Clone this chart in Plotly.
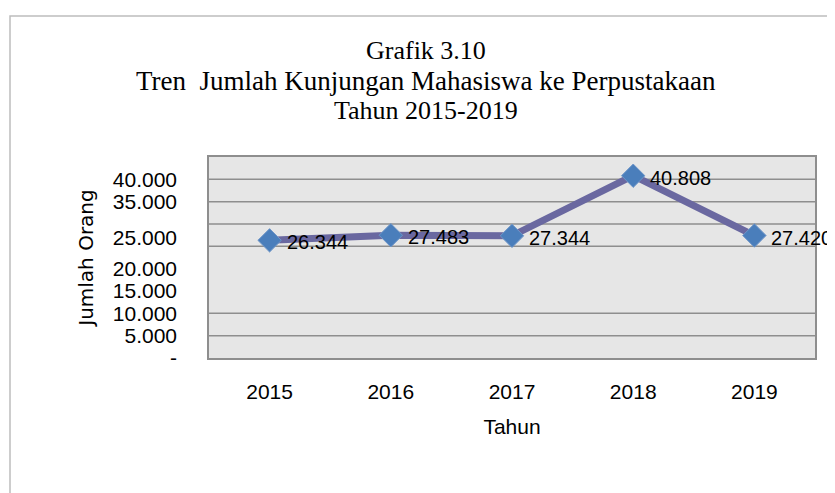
import plotly.graph_objects as go

YEARS = ["2015", "2016", "2017", "2018", "2019"]
VISITS = [26344, 27483, 27344, 40808, 27420]
VISIT_LABELS = ["26.344", "27.483", "27.344", "40.808", "27.420"]

# y-axis tick labels as they appear on the scanned chart
Y_TICK_VALS = [0, 5000, 10000, 15000, 20000, 27000, 35000, 40000]
Y_TICK_TEXT = ["-", "5.000", "10.000", "15.000", "20.000", "25.000", "35.000", "40.000"]
# gridlines that are visible in the picture
GRID_VALS = [5000, 10000, 25000, 30000, 35000, 40000]
Y_MAX = 45000

TITLE_LINES = ["Grafik 3.10", "Tren  Jumlah Kunjungan Mahasiswa ke Perpustakaan", "Tahun 2015-2019"]
TITLE_SIZES = [26, 27, 26]

# the page body adds an 8px margin, so the figure is made smaller and shifted
OFF = 8
W, H = 835 - OFF, 493 - OFF
L, R, T, B = 209 - OFF, 28 - OFF, 157 - OFF, 135
PW = W - L - R
PH = H - T - B

SANS = "Liberation Sans, Arial, sans-serif"
SERIF = "Liberation Serif, Times New Roman, serif"


def px_y(y):
    """page pixel row -> paper y"""
    return (H - B - (y - OFF)) / PH


def px_x(x):
    return (x - OFF - L) / PW


fig = go.Figure()

fig.add_trace(
    go.Scatter(
        x=list(range(len(YEARS))),
        y=VISITS,
        mode="lines+markers",
        line=dict(color="#6A68A0", width=7),
        marker=dict(
            symbol="diamond",
            size=18,
            color="#4A7EBB",
            line=dict(color="#6F96C8", width=1),
        ),
        hoverinfo="skip",
        showlegend=False,
    )
)

# data labels to the right of each point
for i, (y, t) in enumerate(zip(VISITS, VISIT_LABELS)):
    fig.add_annotation(
        x=i,
        y=y,
        text=t,
        showarrow=False,
        xanchor="left",
        yanchor="middle",
        xshift=15,
        yshift=-2,
        font=dict(family=SANS, size=20, color="#000000"),
    )

# horizontal gridlines
for g in GRID_VALS:
    fig.add_shape(
        type="line",
        xref="paper",
        yref="y",
        x0=0,
        x1=1,
        y0=g,
        y1=g,
        line=dict(color="#8E8E8E", width=1.5),
        layer="below",
    )

# outer chart frame (partly cropped in the scan)
fig.add_shape(
    type="rect",
    xref="paper",
    yref="paper",
    x0=px_x(10),
    x1=1.3,
    y0=-1.0,
    y1=px_y(16),
    line=dict(color="#BDBDBD", width=1.5),
    fillcolor="rgba(0,0,0,0)",
)

# three-line title
for txt, yy, sz in zip(TITLE_LINES, [51, 81, 111], TITLE_SIZES):
    fig.add_annotation(
        xref="paper",
        yref="paper",
        x=px_x(426),
        y=px_y(yy),
        text=txt,
        showarrow=False,
        xanchor="center",
        yanchor="middle",
        borderpad=0,
        font=dict(family=SERIF, size=sz, color="#000000"),
    )

fig.update_layout(
    width=W,
    height=H,
    paper_bgcolor="white",
    plot_bgcolor="#E6E6E6",
    margin=dict(l=L, r=R, t=T, b=B),
)

fig.update_xaxes(
    tickmode="array",
    tickvals=list(range(len(YEARS))),
    ticktext=YEARS,
    range=[-0.5, 4.5],
    showgrid=False,
    zeroline=False,
    showline=True,
    linecolor="#8E8E8E",
    linewidth=1.5,
    mirror=True,
    ticks="",
    ticklabelstandoff=14,
    tickfont=dict(family=SANS, size=21, color="#000000"),
    title=dict(text="Tahun", standoff=17, font=dict(family=SANS, size=21, color="#000000")),
)

fig.update_yaxes(
    range=[0, Y_MAX],
    tickmode="array",
    tickvals=Y_TICK_VALS,
    ticktext=Y_TICK_TEXT,
    showgrid=False,
    zeroline=False,
    showline=True,
    linecolor="#8E8E8E",
    linewidth=1.5,
    mirror=True,
    ticks="",
    ticklabelstandoff=26,
    tickfont=dict(family=SANS, size=21, color="#000000"),
    title=dict(text="Jumlah Orang", standoff=14, font=dict(family="DejaVu Sans, Verdana, sans-serif", size=20, color="#000000")),
)

fig.write_html("out.html")
